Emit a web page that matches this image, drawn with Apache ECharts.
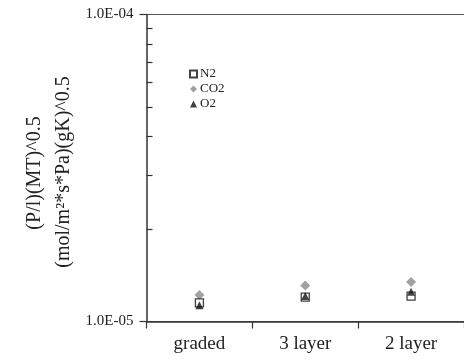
<!DOCTYPE html>
<html>
<head>
<meta charset="utf-8">
<script src="https://cdn.jsdelivr.net/npm/echarts@6/dist/echarts.min.js"></script>
<style>html,body{margin:0;padding:0;background:#fff}#c{width:464px;height:360px}</style>
</head>
<body>
<div id="c"></div>
<script>
var categories = ['graded', '3 layer', '2 layer'];
var seriesNames = ['N2', 'CO2', 'O2'];
var n2 = [1.15e-5, 1.20e-5, 1.21e-5];
var co2 = [1.22e-5, 1.31e-5, 1.345e-5];
var o2 = [1.13e-5, 1.21e-5, 1.25e-5];
var yTickValues = [1e-5, 1e-4];
var yTickLabels = ['1.0E-05', '1.0E-04'];
var yMinorTicks = [2e-5, 3e-5, 4e-5, 5e-5, 6e-5, 7e-5, 8e-5, 9e-5];
var yTitle1 = '(P/l)(MT)^0.5';
var yTitle2 = '(mol/m\u00B2*s*Pa)(gK)^0.5';

var FONT = 'Liberation Serif';
var chart = echarts.init(document.getElementById('c'));
chart.setOption({
  animation: false,
  backgroundColor: '#fff',
  grid: {left: 146.5, top: 14.5, bottom: 38.5, right: -7.5, containLabel: false},
  legend: {
    orient: 'vertical', left: 189, top: 67, padding: 0, itemWidth: 7, itemHeight: 7, itemGap: 1,
    data: seriesNames,
    textStyle: {fontFamily: FONT, fontSize: 13, lineHeight: 14, color: '#222', padding: [0,0,0,-2]}
  },
  xAxis: {
    type: 'category', data: categories, boundaryGap: true,
    axisLine: {lineStyle: {color: '#333', width: 1.5}},
    axisTick: {show: true, inside: false, length: 7, lineStyle: {color: '#333', width: 1.2}},
    axisLabel: {fontFamily: FONT, fontSize: 19, color: '#222', margin: 13},
    splitLine: {show: false}
  },
  yAxis: [{
    type: 'log', logBase: 10, min: 1e-5, max: 1e-4,
    axisLine: {show: true, lineStyle: {color: '#333', width: 1.5}},
    axisTick: {show: true, inside: false, length: 7, customValues: yTickValues, lineStyle: {color: '#333', width: 1.2}},
    axisLabel: {fontFamily: FONT, fontSize: 15, color: '#222', margin: 13, customValues: yTickValues,
      formatter: function (v) {
        for (var i = 0; i < yTickValues.length; i++) { if (Math.abs(v - yTickValues[i]) / yTickValues[i] < 1e-6) return yTickLabels[i]; }
        return '';
      }},
    splitLine: {show: true, lineStyle: {color: '#555', width: 1.2}},
    minorTick: {show: false}
  }, {
    type: 'log', logBase: 10, min: 1e-5, max: 1e-4, position: 'left', offset: 0,
    axisLine: {show: false},
    axisTick: {show: true, inside: true, length: 6, customValues: yMinorTicks, lineStyle: {color: '#333', width: 1.2}},
    axisLabel: {show: false},
    splitLine: {show: false}
  }],
  graphic: [{
    type: 'text', x: 35, y: 173, rotation: Math.PI / 2,
    style: {text: yTitle1, font: '20px "Liberation Serif"', fill: '#222', textAlign: 'center', textVerticalAlign: 'middle'}
  }, {
    type: 'text', x: 64, y: 172, rotation: Math.PI / 2,
    style: {text: yTitle2, font: '20px "Liberation Serif"', fill: '#222', textAlign: 'center', textVerticalAlign: 'middle'}
  }],
  series: [{
    name: 'CO2', type: 'scatter', data: co2, symbol: 'diamond', symbolSize: 10, z: 2,
    itemStyle: {color: '#8a8a8a'}
  }, {
    name: 'N2', type: 'scatter', data: n2, symbol: 'rect', symbolSize: 8, z: 3,
    itemStyle: {color: '#fff', borderColor: '#111', borderWidth: 1.3}
  }, {
    name: 'O2', type: 'scatter', data: o2, symbol: 'triangle', symbolSize: 8, z: 4,
    itemStyle: {color: '#111'}
  }]
});
</script>
</body>
</html>
